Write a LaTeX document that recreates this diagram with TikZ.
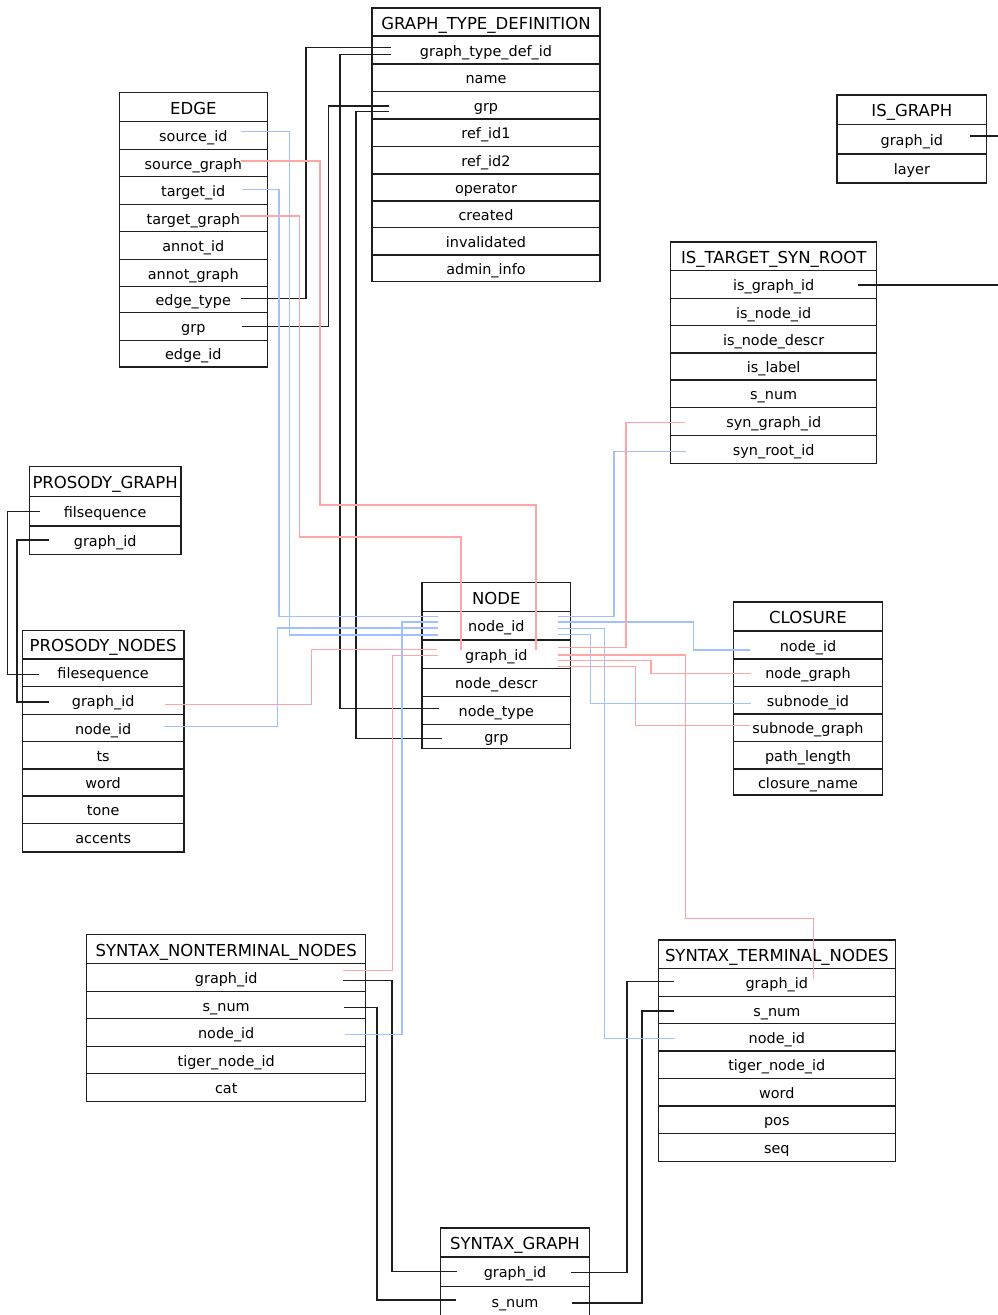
\documentclass[tikz,border=0pt]{standalone}
\usepackage{fontspec}
\setmainfont{DejaVu Sans}
\definecolor{lblue}{RGB}{160,192,255}
\definecolor{lred}{RGB}{255,165,165}
\definecolor{dk}{RGB}{30,30,30}
\tikzset{
  cell/.style={draw=dk, line width=1.3pt, inner sep=0pt, font=\fontsize{14.4}{16}\selectfont, text height=14pt, text depth=2pt},
  ttl/.style={cell, font=\fontsize{16.5}{18}\selectfont, text height=15pt, text depth=1pt},
  fk/.style={line width=1.1pt, draw=dk},
  gk/.style={line width=1.1pt, draw=lred},
  nk/.style={line width=1.1pt, draw=lblue},
}
\newcommand\dbtable[5]{%
  \foreach \ttx/\ya/\yb in {#4}{%
    \node[ttl, minimum width={#3-#2}, minimum height={\yb-\ya}] (#1) at ({(#2+#3)/2},{(\ya+\yb)/2}) {\ttx};}
  \foreach \fld/\ya/\yb [count=\idx] in {#5}{%
    \node[cell, minimum width={#3-#2}, minimum height={\yb-\ya}] (#1-\idx) at ({(#2+#3)/2},{(\ya+\yb)/2}) {\fld};}
}
\begin{document}
\begin{tikzpicture}[x=1pt,y=-1pt]
\useasboundingbox (0,0) rectangle (998,1315);
\clip (0,0) rectangle (998,1315);

% ---------- tables ----------
\dbtable{gtd}{372}{600}{GRAPH\_TYPE\_DEFINITION/8/36}{graph\_type\_def\_id/36/64, name/64/91.7, grp/91.7/119, ref\_id1/119/146.7, ref\_id2/146.7/174, operator/174/201, created/201/227.3, invalidated/227.3/255, admin\_info/255/281.7}
\dbtable{edge}{119.3}{267.3}{EDGE/92.7/121.3}{source\_id/121.3/149.3, source\_graph/149.3/176.7, target\_id/176.7/204.3, target\_graph/204.3/231.7, annot\_id/231.7/259.3, annot\_graph/259.3/286.7, edge\_type/286.7/312.7, grp/312.7/340.3, edge\_id/340.3/367}
\dbtable{isg}{837}{986.7}{IS\_GRAPH/95/124.3}{graph\_id/124.3/154, layer/154/183}
\dbtable{itsr}{670.7}{876.7}{IS\_TARGET\_SYN\_ROOT/242/270.7}{is\_graph\_id/270.7/298.3, is\_node\_id/298.3/325.7, is\_node\_descr/325.7/353, is\_label/353/380, s\_num/380/407.3, syn\_graph\_id/407.3/435.3, syn\_root\_id/435.3/463.3}
\dbtable{pg}{29.3}{181}{PROSODY\_GRAPH/466.7/496.3}{filsequence/496.3/526, graph\_id/526/554.3}
\dbtable{pn}{22.3}{184}{PROSODY\_NODES/630.3/659}{filesequence/659/686.7, graph\_id/686.7/714.3, node\_id/714.3/741.7, ts/741.7/769, word/769/796, tone/796/823.3, accents/823.3/852}
\dbtable{node}{422}{570.7}{NODE/582.7/611.7}{node\_id/611.7/640, graph\_id/640/668.3, node\_descr/668.3/696.7, node\_type/696.7/724.7, grp/724.7/748.3}
\dbtable{clo}{733.7}{882.3}{CLOSURE/602/631}{node\_id/631/659, node\_graph/659/686.3, subnode\_id/686.3/714, subnode\_graph/714/741.7, path\_length/741.7/769, closure\_name/769/795}
\dbtable{snt}{86.7}{365.7}{SYNTAX\_NONTERMINAL\_NODES/934.7/963.3}{graph\_id/963.3/991.3, s\_num/991.3/1018.7, node\_id/1018.7/1046.3, tiger\_node\_id/1046.3/1073.7, cat/1073.7/1101.3}
\dbtable{stn}{658.3}{895.3}{SYNTAX\_TERMINAL\_NODES/940/968.7}{graph\_id/968.7/996.3, s\_num/996.3/1023.7, node\_id/1023.7/1051, tiger\_node\_id/1051/1078.7, word/1078.7/1106, pos/1106/1133.7, seq/1133.7/1161.3}
\dbtable{sg}{440.7}{589.3}{SYNTAX\_GRAPH/1228/1257}{graph\_id/1257/1286.3, s\_num/1286.3/1317}

% ---------- connector ends ----------
\coordinate (k1a) at (241,298.3);   \coordinate (k1b) at (391,47.3);
\coordinate (k2a) at (391,54.3);    \coordinate (k2b) at (439,708.3);
\coordinate (k3a) at (242,326.7);   \coordinate (k3b) at (388.7,106);
\coordinate (k4a) at (388.7,111.7); \coordinate (k4b) at (441.7,738.7);
\coordinate (k5a) at (40,511.7);    \coordinate (k5b) at (39,674.7);
\coordinate (k6a) at (49.3,540);    \coordinate (k6b) at (49,702);
\coordinate (k7a) at (343.3,980.3); \coordinate (k7b) at (456.7,1271.7);
\coordinate (k8a) at (344,1007.7);  \coordinate (k8b) at (456,1300);
\coordinate (k9a) at (570.7,1272.3);\coordinate (k9b) at (673.7,981.3);
\coordinate (k10a) at (571.7,1303); \coordinate (k10b) at (673.7,1011);
\coordinate (k11a) at (970,136);    \coordinate (k11b) at (1010,136);
\coordinate (k12a) at (858,285);    \coordinate (k12b) at (1010,285);

\coordinate (n1a) at (241,131.7);   \coordinate (n1b) at (437.7,635);
\coordinate (n2a) at (241.7,189.3); \coordinate (n2b) at (437.7,616.3);
\coordinate (n3a) at (164.3,726.7); \coordinate (n3b) at (437.7,628);
\coordinate (n4a) at (345.3,1034.7);\coordinate (n4b) at (437.7,622);
\coordinate (n5a) at (558.3,616.3); \coordinate (n5b) at (685.7,451.7);
\coordinate (n6a) at (558.3,622);   \coordinate (n6b) at (750,650);
\coordinate (n7a) at (558.3,628.5); \coordinate (n7b) at (674.7,1038.3);
\coordinate (n8a) at (558.3,634.5); \coordinate (n8b) at (750.7,703.7);

\coordinate (g1a) at (241,161);     \coordinate (g1b) at (536,650);
\coordinate (g2a) at (240,216);     \coordinate (g2b) at (461,650);
\coordinate (g3a) at (165.3,704.3); \coordinate (g3b) at (436.7,649.5);
\coordinate (g4a) at (343.3,970.7); \coordinate (g4b) at (438.3,655.7);
\coordinate (g5a) at (557.7,647.3); \coordinate (g5b) at (685,422.7);
\coordinate (g6a) at (557.7,655);   \coordinate (g6b) at (813.3,978.7);
\coordinate (g7a) at (557.7,660.3); \coordinate (g7b) at (750.7,673.3);
\coordinate (g8a) at (557.7,666.5); \coordinate (g8b) at (750,725.7);

% ---------- black connectors ----------
\draw[fk] (k1a) -- ++(65,0) |- (k1b);
\draw[fk] (k2a) -- ++(-51,0) |- (k2b);
\draw[fk] (k3a) -- ++(86.3,0) |- (k3b);
\draw[fk] (k4a) -- ++(-32.7,0) |- (k4b);
\draw[fk] (k5a) -- ++(-32.7,0) |- (k5b);
\draw[fk] (k6a) -- ++(-32.3,0) |- (k6b);
\draw[fk] (k7a) -- ++(48.7,0) |- (k7b);
\draw[fk] (k8a) -- ++(33,0) |- (k8b);
\draw[fk] (k9a) -- ++(56.3,0) |- (k9b);
\draw[fk] (k10a) -- ++(70.3,0) |- (k10b);
\draw[fk] (k11a) -- (k11b);
\draw[fk] (k12a) -- (k12b);

% ---------- blue connectors ----------
\draw[nk] (n1a) -- ++(48.3,0) |- (n1b);
\draw[nk] (n2a) -- ++(37.3,0) |- (n2b);
\draw[nk] (n3a) -- ++(113.4,0) |- (n3b);
\draw[nk] (n4a) -- ++(56.7,0) |- (n4b);
\draw[nk] (n5a) -- ++(55.7,0) |- (n5b);
\draw[nk] (n6a) -- ++(135,0) |- (n6b);
\draw[nk] (n7a) -- ++(46.5,0) |- (n7b);
\draw[nk] (n8a) -- ++(32.4,0) |- (n8b);

% ---------- red connectors ----------
\draw[gk] (g1a) -| (320,505) -| (g1b);
\draw[gk] (g2a) -| (299.3,537) -| (g2b);
\draw[gk] (g3a) -- ++(146,0) |- (g3b);
\draw[gk] (g4a) -- ++(49.2,0) |- (g4b);
\draw[gk] (g5a) -- ++(68.3,0) |- (g5b);
\draw[gk] (g6a) -| (685.5,918.3) -| (g6b);
\draw[gk] (g7a) -- ++(93.3,0) |- (g7b);
\draw[gk] (g8a) -- ++(78,0) |- (g8b);
\end{tikzpicture}
\end{document}
